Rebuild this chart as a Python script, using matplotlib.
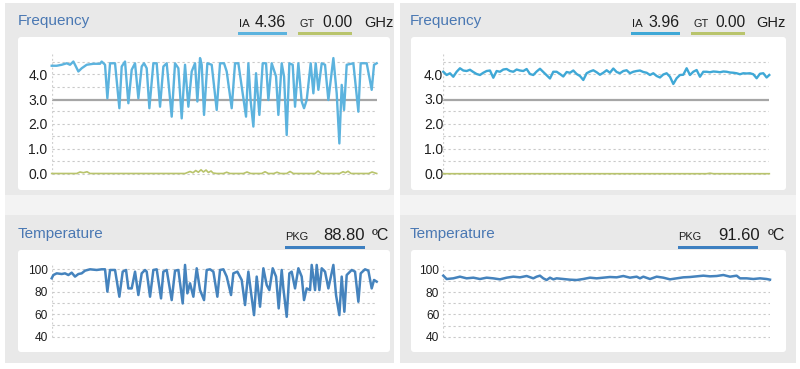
import matplotlib
matplotlib.use("Agg")
import matplotlib.pyplot as plt
from matplotlib.patches import Rectangle, FancyBboxPatch

plt.rcParams['font.family'] = ['Liberation Sans', 'DejaVu Sans']

# ---------------- data ----------------
# left screenshot: frequency (GHz)
ia_left_t = [0, 15, 30, 45, 55, 65, 70, 80, 90, 105, 125, 145, 150, 160, 167, 175, 190, 203, 210, 220,
             230, 240, 250, 260, 270, 277, 285, 293, 305, 315, 325, 335, 345, 360, 370, 380, 390, 400,
             410, 420, 430, 437, 445, 450, 457, 467, 480, 495, 505, 517, 525, 540, 550, 560, 570, 583,
             590, 597, 605, 613, 623, 633, 643, 650, 660, 673, 680, 690, 697, 705, 713, 723, 730, 740,
             750, 757, 765, 777, 785, 792, 800, 810, 820, 830, 845, 855, 863, 870, 877, 885, 905, 920,
             927, 945, 960, 967, 975]
ia_left = [4.34, 4.34, 4.38, 4.44, 4.38, 4.51, 4.38, 4.11, 4.24, 4.38, 4.42, 4.42, 4.51, 4.38, 3.03,
           4.44, 4.44, 2.63, 4.31, 4.51, 2.83, 4.18, 4.44, 3.03, 4.31, 4.44, 4.24, 2.63, 4.44, 4.44,
           2.69, 4.31, 4.44, 2.29, 4.44, 4.24, 2.22, 4.38, 2.69, 4.11, 4.44, 2.90, 4.65, 4.38, 2.36,
           4.44, 4.38, 2.56, 4.44, 4.44, 4.11, 2.63, 4.44, 4.44, 3.50, 2.29, 4.44, 2.90, 1.89, 4.04,
           2.36, 4.44, 4.44, 2.96, 4.44, 3.91, 2.36, 4.44, 3.91, 1.55, 4.44, 4.38, 2.69, 4.44, 2.90,
           2.63, 2.96, 4.44, 3.23, 4.44, 3.37, 4.44, 4.38, 2.96, 4.65, 3.23, 1.21, 3.57, 2.56, 4.38,
           4.44, 2.49, 4.44, 4.44, 3.37, 4.38, 4.44]
gt_left_t = [0, 75, 85, 95, 106, 115, 400, 415, 424, 432, 440, 448, 455, 463, 470, 478, 484, 495, 515,
             525, 535, 575, 586, 597, 630, 640, 650, 666, 676, 686, 705, 715, 725, 790, 799, 808, 864,
             874, 881, 889, 898, 951, 961, 975]
gt_left = [0, 0, 0.06, 0.03, 0.07, 0, 0, 0.08, 0.03, 0.12, 0.05, 0.15, 0.06, 0.14, 0.04, 0.10, 0.02, 0,
           0, 0.05, 0, 0, 0.06, 0, 0, 0.07, 0, 0, 0.05, 0, 0, 0.08, 0, 0, 0.10, 0, 0, 0.07, 0.03, 0.09,
           0, 0, 0.06, 0]

# right screenshot: frequency (GHz)
ia_right = [4.09, 3.96, 4.03, 3.89, 4.09, 4.23, 4.14, 4.12, 4.17, 4.08, 4.00, 3.96, 4.05, 4.12, 4.14,
            3.85, 4.12, 4.09, 4.18, 4.20, 4.12, 4.09, 4.18, 4.14, 4.12, 4.20, 4.00, 3.96, 4.10, 4.21,
            4.08, 3.95, 3.82, 4.09, 4.09, 4.00, 3.90, 4.08, 4.05, 4.14, 4.00, 3.92, 3.76, 4.03, 4.10,
            4.15, 4.07, 3.97, 4.05, 4.15, 4.05, 4.22, 4.08, 4.03, 4.12, 4.15, 4.03, 4.09, 4.12, 4.14,
            4.08, 4.05, 3.96, 4.03, 3.92, 3.86, 3.98, 4.03, 3.89, 3.60, 3.83, 3.96, 3.97, 4.23, 3.96,
            4.09, 4.16, 3.89, 4.09, 4.09, 4.07, 4.10, 4.09, 4.07, 4.10, 4.09, 4.06, 4.05, 4.03, 3.99,
            4.03, 4.02, 4.03, 3.99, 3.83, 4.01, 4.03, 3.86, 3.96]
ia_right_t = [i * 10 for i in range(len(ia_right) - 1)] + [978]
gt_right_t = [0, 790, 800, 810, 978]
gt_right = [0, 0, 0.02, 0, 0]

# left screenshot: temperature (°C)
pkg_left_t = [0, 5, 15, 30, 40, 50, 60, 70, 80, 90, 100, 115, 135, 150, 160, 167, 175, 190, 203, 213,
              223, 230, 240, 250, 260, 270, 280, 285, 295, 305, 315, 328, 335, 345, 360, 370, 380, 393,
              400, 407, 415, 425, 435, 445, 457, 465, 475, 485, 497, 505, 515, 525, 538, 545, 557, 570,
              580, 590, 597, 607, 615, 625, 635, 645, 653, 663, 673, 681, 690, 695, 705, 713, 720, 730,
              740, 750, 757, 765, 775, 780, 790, 795, 803, 810, 820, 830, 845, 853, 863, 870, 878, 885,
              900, 910, 920, 927, 940, 950, 960, 967, 975]
pkg_left = [92.0, 94.9, 96.4, 95.8, 96.4, 94.9, 97.0, 93.5, 95.8, 96.4, 98.8, 100.0, 99.4, 100.0, 100.0,
            80.1, 99.4, 99.4, 75.6, 97.9, 99.4, 83.0, 83.0, 97.9, 77.1, 96.4, 99.4, 97.9, 75.6, 99.4,
            100.0, 74.1, 97.9, 99.4, 72.6, 98.8, 99.4, 69.6, 103.9, 78.6, 87.5, 75.6, 100.9, 81.5, 72.6,
            99.4, 100.0, 97.9, 75.6, 99.4, 100.0, 93.5, 77.1, 96.4, 97.9, 90.5, 68.2, 97.9, 81.5, 59.2,
            93.5, 66.7, 100.9, 86.0, 81.5, 100.9, 93.5, 65.2, 99.4, 83.0, 57.7, 96.4, 97.9, 83.0, 100.9,
            93.5, 72.6, 83.0, 81.5, 103.9, 81.5, 103.9, 81.5, 100.9, 97.9, 83.0, 103.9, 77.1, 59.2, 93.5,
            62.2, 94.9, 99.4, 97.9, 71.1, 96.4, 100.0, 98.8, 83.0, 90.5, 89.0]

# right screenshot: temperature (°C)
pkg_right_t = [0, 10, 30, 50, 70, 90, 110, 130, 150, 170, 190, 210, 230, 250, 270, 280, 290, 300, 310,
               320, 330, 340, 360, 380, 400, 420, 440, 460, 480, 500, 520, 540, 560, 580, 590, 600, 620,
               640, 660, 680, 700, 720, 740, 760, 780, 800, 820, 840, 860, 880, 890, 910, 930, 950, 970,
               980]
pkg_right = [94.9, 91.9, 92.5, 94.0, 92.5, 93.1, 91.9, 93.1, 92.5, 91.6, 93.1, 94.0, 93.4, 94.6, 92.5,
             94.0, 94.9, 92.5, 91.0, 93.1, 91.6, 92.5, 91.9, 91.3, 91.0, 91.9, 93.1, 92.5, 93.1, 93.7,
             93.4, 94.6, 93.1, 94.0, 92.5, 94.0, 91.9, 94.0, 93.1, 91.6, 92.5, 93.4, 93.7, 94.3, 94.9,
             94.3, 94.6, 95.5, 94.0, 94.9, 92.5, 92.5, 91.9, 92.5, 91.9, 91.3]

freq_ticks = [0, 1, 2, 3, 4]
freq_tick_labels = ["0.0", "1.0", "2.0", "3.0", "4.0"]
temp_ticks = [40, 60, 80, 100]
temp_tick_labels = ["40", "60", "80", "100"]

ia_now = [4.36, 3.96]
gt_now = [0.00, 0.00]
pkg_now = [88.80, 91.60]

# ---------------- styling ----------------
W, H = 800, 369
fig = plt.figure(figsize=(W / 100, H / 100), dpi=100)
fig.patch.set_facecolor("white")

PANEL = "#e9e9e9"
STRIP = "#f3f3f3"
TITLE_C = "#4a78b3"
TEXT_C = "#1e1e1e"
IA_C = "#5cb3de"
IA_C2 = "#3fa8d6"
GT_C = "#b9c46c"
PKG_C = "#4583bd"
PKG_BAR = "#3d7fc0"
GRID_C = "#c9c9c9"

bg = fig.add_axes([0, 0, 1, 1], zorder=0)
bg.set_xlim(0, W)
bg.set_ylim(H, 0)
bg.axis("off")

# gray screenshot panels
for x0, x1 in [(5, 394), (400, 796)]:
    bg.add_patch(Rectangle((x0, 3), x1 - x0, 192, color=PANEL, lw=0))
    bg.add_patch(Rectangle((x0, 195), x1 - x0, 20, color=STRIP, lw=0))
    bg.add_patch(Rectangle((x0, 215), x1 - x0, 148, color=PANEL, lw=0))

# white inner cards
for (x0, x1) in [(18, 390), (411, 786)]:
    for (y0, y1) in [(37, 190), (250, 352)]:
        bg.add_patch(FancyBboxPatch((x0 + 3, y0 + 3), x1 - x0 - 6, y1 - y0 - 6,
                                    boxstyle="round,pad=3", fc="white", ec="none"))

# headers
def header(xoff, ia_v, gt_v, pkg_v, ia_col, ia_pos, gt_pos, ghz_x, pkg_pos, degc_x):
    bg.text(18 + xoff, 25, "Frequency", fontsize=11, color=TITLE_C, va="baseline", ha="left")
    bg.text(ia_pos[0], 26.7, "IA", fontsize=8.2, color=TEXT_C, va="baseline")
    bg.text(ia_pos[1], 26.7, f"{ia_v:.2f}", fontsize=11.5, color=TEXT_C, va="baseline")
    bg.text(gt_pos[0], 26.7, "GT", fontsize=7.8, color=TEXT_C, va="baseline")
    bg.text(gt_pos[1], 26.7, f"{gt_v:.2f}", fontsize=11.2, color=TEXT_C, va="baseline")
    bg.text(ghz_x, 26.7, "GHz", fontsize=10.5, color=TEXT_C, va="baseline")
    bg.add_patch(Rectangle((ia_pos[0] - 1, 32), 49, 3.2, color=ia_col, lw=0))
    bg.add_patch(Rectangle((gt_pos[0] - 2, 32), 54, 3.2, color=GT_C, lw=0))
    bg.text(18 + xoff, 238, "Temperature", fontsize=11, color=TITLE_C, va="baseline", ha="left")
    bg.text(pkg_pos[0], 240, "PKG", fontsize=7.9, color=TEXT_C, va="baseline")
    bg.text(pkg_pos[1], 240, f"{pkg_v:.2f}", fontsize=12, color=TEXT_C, va="baseline")
    bg.text(degc_x, 240, "\u00baC", fontsize=11.5, color=TEXT_C, va="baseline")
    bg.add_patch(Rectangle((pkg_pos[0], 245.8), 80, 3.2, color=PKG_BAR, lw=0))

header(0, ia_now[0], gt_now[0], pkg_now[0], IA_C, (239, 255), (300, 322), 364, (285, 323), 372)
header(392, ia_now[1], gt_now[1], pkg_now[1], IA_C2, (632, 648), (693, 715), 756, (678, 718), 768)


def add_axes_px(x0px, x1px, xlim, yv0, ypx0, yv1, ypx1, ylim):
    s = (ypx1 - ypx0) / (yv1 - yv0)
    top = ypx0 + (ylim[1] - yv0) * s
    bot = ypx0 + (ylim[0] - yv0) * s
    ax = fig.add_axes([x0px / W, 1 - bot / H, (x1px - x0px) / W, (bot - top) / H], zorder=1)
    ax.set_xlim(xlim)
    ax.set_ylim(ylim)
    ax.patch.set_alpha(0)
    for sp in ax.spines.values():
        sp.set_visible(False)
    ax.set_xticks([])
    return ax


def freq_axes(x0px, x1px, tmax, ypx0, ypx4, series, pad):
    ax = add_axes_px(x0px, x1px, (0, tmax), 0, ypx0, 4, ypx4, (-0.2, 4.9))
    for yv in [0.0, 0.5, 1.0, 1.5, 2.0, 2.5, 3.5, 4.0, 4.5]:
        ax.hlines(yv, 0, tmax, colors=GRID_C, linestyles=(0, (2, 2.5)), lw=0.8)
    ax.hlines(2.95, 0, tmax, colors="#a6a6a6", lw=1.6)
    ax.vlines(0, 0, 4.85, colors="#cfcfcf", linestyles=(0, (1.5, 2)), lw=0.9)
    for t, v, c, lw in series:
        ax.plot(t, v, color=c, lw=lw, clip_on=False, solid_joinstyle="round")
    ax.set_yticks(freq_ticks)
    ax.set_yticklabels(freq_tick_labels)
    ax.tick_params(axis="y", length=0, pad=pad, labelsize=10, labelcolor=TEXT_C)
    return ax


def temp_axes(x0px, x1px, tmax, ypx40, ypx100, t, v, pad):
    ax = add_axes_px(x0px, x1px, (0, tmax), 40, ypx40, 100, ypx100, (35, 107))
    for yv in range(40, 101, 10):
        ax.hlines(yv, 0, tmax, colors=GRID_C, linestyles=(0, (2, 2.5)), lw=0.8)
    ax.vlines(0, 40, 104, colors="#cfcfcf", linestyles=(0, (1.5, 2)), lw=0.9)
    ax.plot(t, v, color=PKG_C, lw=1.8, clip_on=False, solid_joinstyle="round")
    ax.set_yticks(temp_ticks)
    ax.set_yticklabels(temp_tick_labels)
    ax.tick_params(axis="y", length=0, pad=pad, labelsize=8.6, labelcolor=TEXT_C)
    return ax


freq_axes(51.7, 376.7, 975, 173.5, 74.2,
          [(gt_left_t, gt_left, GT_C, 1.2), (ia_left_t, ia_left, IA_C, 1.7)], 3)
freq_axes(443.3, 769.3, 978, 173.7, 74.0,
          [(gt_right_t, gt_right, GT_C, 1.2), (ia_right_t, ia_right, IA_C2, 1.7)], 0)
temp_axes(51.7, 376.7, 975, 336.7, 269.3, pkg_left_t, pkg_left, 3)
temp_axes(443.3, 770.0, 980, 336.7, 270.0, pkg_right_t, pkg_right, 3)

fig.savefig("out.png", dpi=100)
